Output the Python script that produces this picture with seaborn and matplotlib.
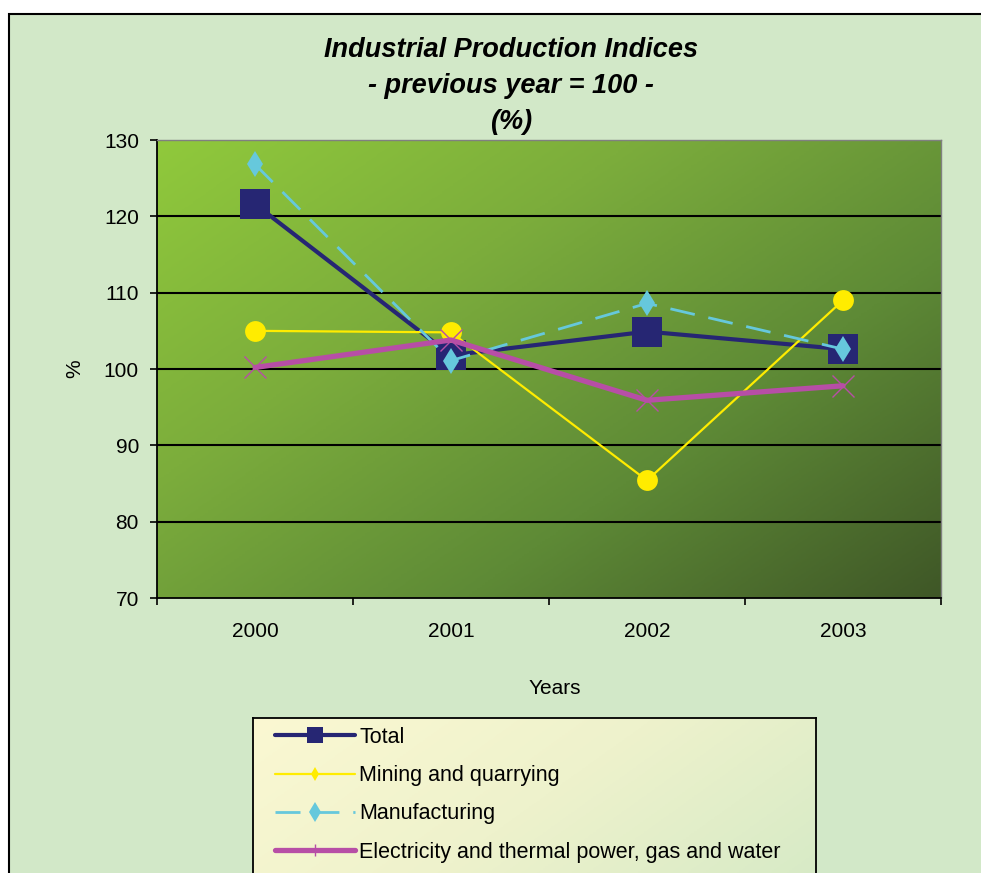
import numpy as np
import pandas as pd
import matplotlib
matplotlib.use("Agg")
import matplotlib.pyplot as plt
from matplotlib.patches import Rectangle
from matplotlib.lines import Line2D
from matplotlib.colors import LinearSegmentedColormap
import seaborn as sns

# ---- data ----
years = ["2000", "2001", "2002", "2003"]
total = [121.6, 101.8, 104.9, 102.6]
mining = [105.0, 104.8, 85.4, 109.0]
manufacturing = [126.8, 101.1, 108.6, 102.6]
electricity = [100.2, 103.8, 95.9, 97.8]
series_names = ["Total", "Mining and quarrying", "Manufacturing",
                "Electricity and thermal power, gas and water"]
y_ticks = [70, 80, 90, 100, 110, 120, 130]

sns.set_theme(style="white")
plt.rcParams["font.family"] = ["Liberation Sans", "DejaVu Sans"]
for k in ["text.color", "axes.labelcolor", "xtick.color", "ytick.color"]:
    plt.rcParams[k] = "black"

W, H = 981, 873
fig = plt.figure(figsize=(W / 100, H / 100), dpi=100)
fig.patch.set_facecolor("white")

# chart area background with border (top/left visible)
bg = Rectangle((9 / W, -0.02), 1.1, (H - 14) / H + 0.02, transform=fig.transFigure,
               facecolor="#d2e8c8", edgecolor="black", linewidth=1.5, zorder=-10)
fig.patches.append(bg)

ax_l, ax_r, ax_t, ax_b = 157, 941, 140, 598
ax = fig.add_axes([ax_l / W, 1 - ax_b / H, (ax_r - ax_l) / W, (ax_b - ax_t) / H])

# gradient plot background (bright top-left -> dark bottom-right)
gx, gy = np.meshgrid(np.linspace(0, 1, 300), np.linspace(0, 1, 300))
t = np.clip(0.55 * gx + 0.45 * gy, 0, 1)
cmap_bg = LinearSegmentedColormap.from_list(
    "bg", ["#90c93b", "#7cad3c", "#5e8a36", "#3f5727"])
ax.imshow(t, cmap=cmap_bg, extent=[0, 1, 0, 1], transform=ax.transAxes,
          aspect="auto", zorder=0, interpolation="bilinear", origin="upper")

df = pd.DataFrame({"pos": np.arange(len(years)), "Total": total,
                   "Mining and quarrying": mining, "Manufacturing": manufacturing,
                   "Electricity and thermal power, gas and water": electricity})

colors = {"Total": "#262673", "Mining and quarrying": "#ffec00",
          "Manufacturing": "#66c8dc",
          "Electricity and thermal power, gas and water": "#b74ea6"}
styles = {
    "Total": dict(linewidth=3.0, marker="s", markersize=21, markeredgewidth=0),
    "Mining and quarrying": dict(linewidth=1.6, marker="o", markersize=15,
                                 markeredgewidth=0),
    "Manufacturing": dict(linewidth=2.0, marker="d", markersize=13,
                          markeredgewidth=0, dashes=(9, 5)),
    "Electricity and thermal power, gas and water": dict(
        linewidth=3.8, marker="x", markersize=16, markeredgewidth=1.0),
}

for i, name in enumerate(series_names):
    st = dict(styles[name])
    dashes = st.pop("dashes", None)
    c = colors[name]
    sns.lineplot(data=df, x="pos", y=name, ax=ax, zorder=3 + i, color=c,
                 markerfacecolor=c, markeredgecolor=c, **st)
    if dashes is not None:
        ax.lines[-1].set_dashes(dashes)

# grid lines
for yv in y_ticks[1:-1]:
    ax.axhline(yv, color="black", linewidth=1.5, zorder=1)

ax.set_xlim(-0.5, len(years) - 0.5)
ax.set_ylim(y_ticks[0], y_ticks[-1])
ax.set_yticks(y_ticks)
ax.set_yticklabels([str(v) for v in y_ticks], fontsize=15)
ax.set_xticks(np.arange(len(years)))
ax.set_xticklabels(years, fontsize=15)
ax.set_xticks(np.arange(len(years) + 1) - 0.5, minor=True)
ax.tick_params(axis="x", which="major", length=0, pad=17)
ax.tick_params(axis="x", which="minor", length=5, width=1.2, color="black",
               direction="out", bottom=True)
ax.tick_params(axis="y", which="major", length=5, width=1.2, color="black",
               direction="out", left=True, pad=8)
for s in ["left", "bottom"]:
    ax.spines[s].set_color("black")
    ax.spines[s].set_linewidth(1.3)
for s in ["top", "right"]:
    ax.spines[s].set_color("#808080")
    ax.spines[s].set_linewidth(1.0)
ax.set_xlabel("")
ax.set_ylabel("")

fig.text(75 / W, 1 - 369 / H, "%", rotation=90, fontsize=15, ha="center",
         va="center")
fig.text(555 / W, 1 - 688 / H, "Years", fontsize=15, ha="center", va="center")
fig.text(511 / W, 1 - 86 / H,
         "Industrial Production Indices\n- previous year = 100 -\n(%)",
         fontsize=19.5, fontweight="bold", fontstyle="italic", ha="center",
         va="center", linespacing=1.52, multialignment="center")

# legend box with gradient
lg_l, lg_r, lg_t = 253, 816, 718
lax = fig.add_axes([lg_l / W, -0.02, (lg_r - lg_l) / W, 1 - lg_t / H + 0.02])
lx, ly = np.meshgrid(np.linspace(0, 1, 200), np.linspace(0, 1, 200))
lt = np.clip(0.7 * lx + 0.3 * ly, 0, 1)
cmap_lg = LinearSegmentedColormap.from_list("lg", ["#fbf8d2", "#eef2cc", "#d6eac6"])
lax.imshow(lt, cmap=cmap_lg, extent=[0, 1, 0, 1], aspect="auto",
           interpolation="bilinear", origin="upper")
lax.set_xticks([])
lax.set_yticks([])
for s in lax.spines.values():
    s.set_color("black")
    s.set_linewidth(1.3)

handles = [
    Line2D([], [], color=colors[series_names[0]], linewidth=3.0, marker="s",
           markersize=12, markeredgewidth=0),
    Line2D([], [], color=colors[series_names[1]], linewidth=1.6, marker="d",
           markersize=7, markeredgewidth=0),
    Line2D([], [], color=colors[series_names[2]], linewidth=2.0, marker="d",
           markersize=10, markeredgewidth=0, dashes=(9, 5)),
    Line2D([], [], color=colors[series_names[3]], linewidth=3.8, marker="|",
           markersize=8, markeredgewidth=1.0),
]
fig.legend(handles, series_names, loc="upper left",
           bbox_to_anchor=(275 / W, 1 - 727 / H), frameon=False, fontsize=15.5,
           handlelength=3.72, handletextpad=0.2, labelspacing=0.8,
           borderaxespad=0, borderpad=0)

fig.savefig("out.png", dpi=100)
